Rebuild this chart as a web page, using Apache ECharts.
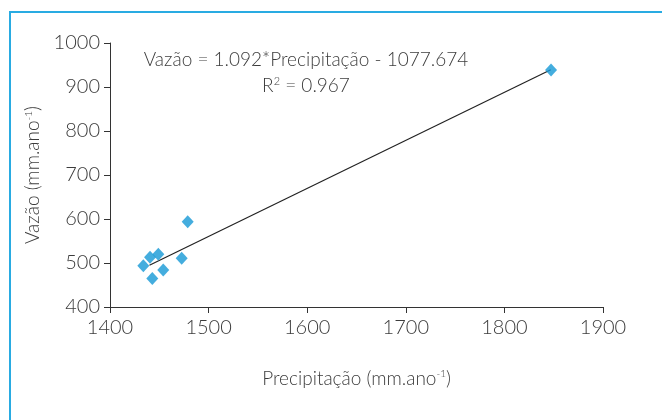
<!DOCTYPE html>
<html>
<head>
<meta charset="utf-8">
<script src="https://cdn.jsdelivr.net/npm/echarts@6/dist/echarts.min.js"></script>
<style>
html,body{margin:0;padding:0;background:#fff;}
#c{width:662px;height:420px;}
</style>
</head>
<body>
<div id="c"></div>
<script>
const precipitacao = [1433.8, 1440.6, 1449.0, 1442.9, 1454.0, 1472.7, 1478.8, 1847.3];
const vazao = [494, 513, 520, 465, 484, 511, 594, 938.6];
const trendX = [1440, 1847];
const trendY = [494.8, 939.3];
const xTicks = [1400, 1500, 1600, 1700, 1800, 1900];
const yTicks = [400, 500, 600, 700, 800, 900, 1000];
const equation = 'Vazão = 1.092*Precipitação - 1077.674';
const r2 = '0.967';

const FONT = 'Lato';
const FW = 300;
const TXT = '#3c3c3c';
const chart = echarts.init(document.getElementById('c'));
const supRich = (fs) => ({
  a: {fontSize: fs, color: TXT, fontFamily: FONT, fontWeight: FW},
  s: {fontSize: 10, color: TXT, fontFamily: FONT, fontWeight: FW, verticalAlign: 'top', padding: [0, 0, 9, 0]}
});
chart.setOption({
  animation: false,
  textStyle: {fontFamily: FONT},
  grid: {left: 110, right: 59, top: 43, bottom: 113},
  graphic: [
    {type: 'rect', shape: {x: 10, y: 12, width: 700, height: 500}, style: {fill: 'none', stroke: '#29abe2', lineWidth: 2}, silent: true},
    {type: 'text', x: 306, y: 60, style: {text: equation, fontFamily: FONT, fontWeight: FW, fontSize: 19, fill: TXT, align: 'center', verticalAlign: 'middle'}},
    {type: 'text', x: 306, y: 86, style: {
      text: '{a|R}{s|2}{a| = ' + r2 + '}',
      rich: {a: {fontFamily: FONT, fontWeight: FW, fontSize: 19, fill: TXT}, s: {fontFamily: FONT, fontWeight: FW, fontSize: 11, fill: TXT, verticalAlign: 'top', padding: [0, 0, 9, 0]}},
      align: 'center', verticalAlign: 'middle'}}
  ],
  xAxis: {
    type: 'value', min: xTicks[0], max: xTicks[xTicks.length - 1], interval: 100,
    splitLine: {show: false},
    axisLine: {lineStyle: {color: '#333', width: 1}},
    axisTick: {show: true, length: 6, lineStyle: {color: '#333'}},
    axisLabel: {color: TXT, fontSize: 20, fontWeight: FW, margin: 11, fontFamily: FONT, formatter: v => String(v)},
    name: '{a|Precipitação (mm.ano}{s|-1}{a|)}',
    nameLocation: 'middle', nameGap: 62,
    nameTextStyle: {rich: supRich(19)}
  },
  yAxis: {
    type: 'value', min: yTicks[0], max: yTicks[yTicks.length - 1], interval: 100,
    splitLine: {show: false},
    axisLine: {show: true, lineStyle: {color: '#333', width: 1}},
    axisTick: {show: true, length: 6, lineStyle: {color: '#333'}},
    axisLabel: {color: TXT, fontSize: 20, fontWeight: FW, margin: 10, fontFamily: FONT, formatter: v => String(v)},
    name: '{a|Vazão (mm.ano}{s|-1}{a|)}',
    nameLocation: 'middle', nameGap: 56,
    nameTextStyle: {rich: supRich(19)}
  },
  series: [
    {type: 'line', data: trendX.map((x, i) => [x, trendY[i]]), symbol: 'none', lineStyle: {color: '#222', width: 1.2}, z: 2},
    {type: 'scatter', data: precipitacao.map((x, i) => [x, vazao[i]]), symbol: 'diamond', symbolSize: [12, 13], itemStyle: {color: '#1598d6'}, z: 3}
  ]
});
</script>
</body>
</html>
